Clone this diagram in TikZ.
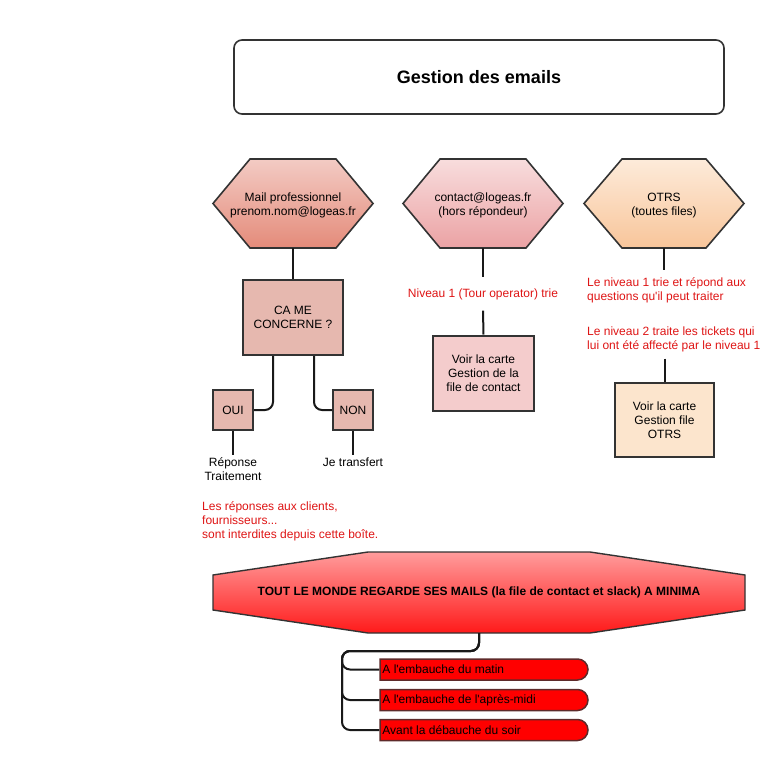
\documentclass[tikz,border=0pt]{standalone}
\usepackage{fontspec}
\setmainfont{Liberation Sans}[Ligatures=TeXOff]
\usetikzlibrary{shapes.misc}
\definecolor{hAtop}{HTML}{F3CBC4}
\definecolor{hAbot}{HTML}{E48B7A}
\definecolor{hBtop}{HTML}{F8DDDD}
\definecolor{hBbot}{HTML}{EBA2A4}
\definecolor{hCtop}{HTML}{FDEBDA}
\definecolor{hCbot}{HTML}{F8C59A}
\definecolor{cafill}{HTML}{E6B8AF}
\definecolor{vcfill}{HTML}{F4CCCC}
\definecolor{otfill}{HTML}{FCE5CD}
\definecolor{octtop}{HTML}{FF9C9C}
\definecolor{octbot}{HTML}{FF1A1A}
\definecolor{redtxt}{RGB}{222,20,20}
\definecolor{edge}{HTML}{333333}
\definecolor{rboxedge}{HTML}{5E2A2A}
\begin{document}
\begin{tikzpicture}[x=1pt,y=-1pt,
  every node/.style={font=\fontsize{12}{14}\selectfont},
  conn/.style={draw=black!90, line width=2pt},
  shapeline/.style={draw=edge, line width=1.6pt},
  sqbox/.style={draw=edge, line width=2pt, inner sep=0, align=center},
  plain/.style={inner sep=0, align=center},
  redtext/.style={text=redtxt, inner sep=0},
  rbox/.style={shape=rounded rectangle, rounded rectangle left arc=none,
    draw=rboxedge, line width=1.5pt, fill=red, minimum width=208, minimum height=21, inner sep=0}
]
\useasboundingbox (0,0) rectangle (782,760);

% title
\node[draw=edge, line width=1.6pt, rounded corners=8pt, fill=white,
  minimum width=490, minimum height=74, font=\bfseries\fontsize{18}{21}\selectfont]
  (title) at (479,77) {Gestion des emails};

% hexagons
\path[shapeline, top color=hAtop, bottom color=hAbot]
  (213,203.5) -- (250,159) -- (336,159) -- (373,203.5) -- (336,248) -- (250,248) -- cycle;
\node[plain, minimum width=160, minimum height=85] (h1) at (293,205.5)
  {Mail professionnel\\prenom.nom@logeas.fr};

\path[shapeline, top color=hBtop, bottom color=hBbot]
  (403,203.5) -- (440,159) -- (526,159) -- (563,203.5) -- (526,248) -- (440,248) -- cycle;
\node[plain, minimum width=160, minimum height=85] (h2) at (483,205.5)
  {contact@logeas.fr\\ (hors répondeur)};

\path[shapeline, top color=hCtop, bottom color=hCbot]
  (584,203.5) -- (622,159) -- (706,159) -- (744,203.5) -- (706,248) -- (622,248) -- cycle;
\node[plain, minimum width=160, minimum height=85] (h3) at (664,205.5)
  {OTRS\\(toutes files)};

% left column
\node[sqbox, fill=cafill, minimum width=100, minimum height=75] (ca) at (293,317.5) {CA ME\\CONCERNE ?};
\node[sqbox, fill=cafill, minimum width=40, minimum height=40] (oui) at (233,410) {OUI};
\node[sqbox, fill=cafill, minimum width=40, minimum height=40] (non) at (353,410) {NON};
\draw[conn] (h1.south) -- (ca.north);
\draw[conn, rounded corners=8pt] ([xshift=-20pt]ca.south) |- (oui.east);
\draw[conn, rounded corners=8pt] ([xshift=21pt]ca.south) |- (non.west);
\node[plain, anchor=north, inner ysep=1.5pt] (rep) at (233,455) {\strut Réponse\\Traitement};
\node[plain, anchor=north, inner ysep=1.5pt] (jet) at (353,455) {\strut Je transfert};
\draw[conn] (oui.south) -- (rep.north);
\draw[conn] (non.south) -- (jet.north);
\node[redtext, anchor=north west, align=left] (warn) at (202,501)
  {Les réponses aux clients,\\fournisseurs...\\sont interdites depuis cette boîte.};

% middle column
\node[redtext, minimum height=33] (niv) at (483,294) {Niveau 1 (Tour operator) trie};
\node[sqbox, fill=vcfill, minimum width=101, minimum height=75] (vc) at (483.5,373)
  {Voir la carte\\Gestion de la\\file de contact};
\draw[conn] (h2.south) -- (niv.north);
\draw[conn] (niv.south) -- (vc.north);

% right column
\node[redtext, anchor=north west, inner ysep=7pt, align=left] (t3) at (587,270)
  {Le niveau 1 trie et répond aux\\questions qu'il peut traiter\\[21pt]Le niveau 2 traite les tickets qui\\lui ont été affecté par le niveau 1};
\node[sqbox, fill=otfill, minimum width=99, minimum height=74] (otrs) at (664.5,420)
  {Voir la carte\\Gestion file\\ OTRS};
\draw[conn] (h3.south) -- (h3.south |- t3.north);
\draw[conn] (otrs.north |- t3.south) -- (otrs.north);

% bottom octagon
\path[draw=edge, line width=1.4pt, top color=octtop, bottom color=octbot]
  (213,575) -- (368,552) -- (590,552) -- (745,575) -- (745,610) -- (590,633) -- (368,633) -- (213,610) -- cycle;
\node[plain, minimum width=532, minimum height=81, font=\bfseries\fontsize{12}{14}\selectfont]
  (oct) at (479,592.5) {TOUT LE MONDE REGARDE SES MAILS (la file de contact et slack) A MINIMA};

% bottom list
\coordinate (trunk) at (342,651);
\node[rbox, label={[anchor=west, inner sep=0, xshift=3pt]west:A l'embauche du matin}] (b1) at (484,669.5) {};
\node[rbox, label={[anchor=west, inner sep=0, xshift=3pt]west:A l'embauche de l'après-midi}] (b2) at (484,700) {};
\node[rbox, label={[anchor=west, inner sep=0, xshift=3pt]west:Avant la débauche du soir}] (b3) at (484,730) {};
\draw[conn, rounded corners=8pt] (oct.south) |- (trunk) |- (b1.west);
\draw[conn, rounded corners=8pt] (oct.south) |- (trunk) |- (b2.west);
\draw[conn, rounded corners=8pt] (oct.south) |- (trunk) |- (b3.west);
\end{tikzpicture}
\end{document}
